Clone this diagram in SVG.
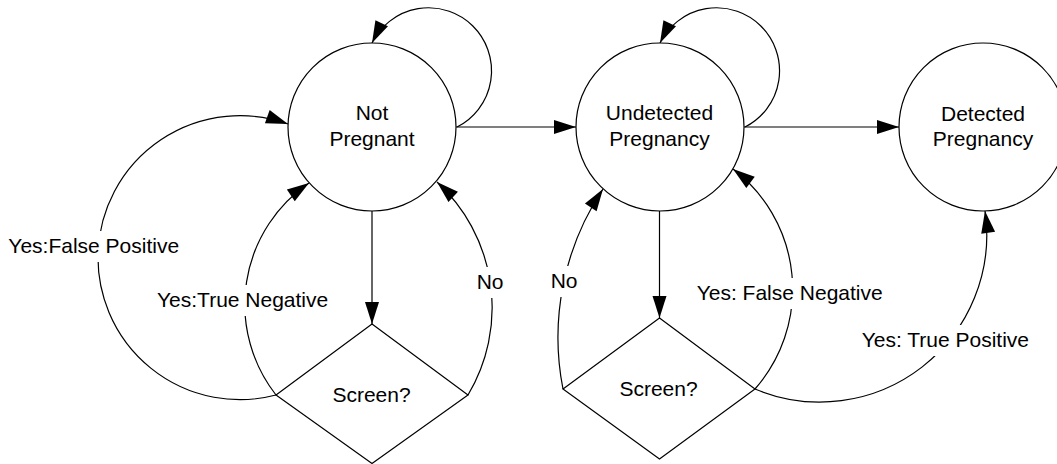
<svg xmlns="http://www.w3.org/2000/svg" width="1057" height="464" viewBox="0 0 1057 464">
<style>
.node{fill:#fff;stroke:#000;stroke-width:1.2}
.edge{fill:none;stroke:#000;stroke-width:1.2;marker-end:url(#arr)}
.edgeplain{fill:none;stroke:#000;stroke-width:1.2}
text{font-family:"Liberation Sans",Arial,sans-serif;font-size:21px;fill:#000}
.c{text-anchor:middle}
.bg{fill:#fff;stroke:none}
</style>
<defs>
<marker id="arr" markerUnits="userSpaceOnUse" markerWidth="24" markerHeight="16" refX="22" refY="7" orient="auto" overflow="visible">
<path d="M0,0 L22,7 L0,14 z" fill="#000"/>
</marker>
</defs>
<g id="connectors">
<path class="edge" d="M457,127 A63,63 0 1 0 372,43"/>
<path class="edge" d="M745,127 A63,63 0 1 0 660,43"/>
<path class="edge" d="M456,127 L576,127"/>
<path class="edge" d="M744,127 L899,127"/>
<path class="edge" d="M372,211 L372,324"/>
<path class="edge" d="M659.5,211 L659.5,318"/>
<path class="edge" d="M276,395 A142,142 0 1 1 288,124"/>
<path class="edge" d="M276,395 A147,147 0 0 1 309,183"/>
<path class="edge" d="M468,395 A170.4,170.4 0 0 0 437,182"/>
<path class="edge" d="M563,389 A267,267 0 0 1 603,189"/>
<path class="edge" d="M755,389 A151,151 0 0 0 733,169"/>
<path class="edge" d="M755,389 A167,167 0 0 0 985,211"/>
<g id="labels">
<rect class="bg" x="6" y="231" width="178" height="31"/>
<text x="8.3" y="253">Yes:False Positive</text>
<rect class="bg" x="155" y="285" width="178" height="31"/>
<text x="157" y="307">Yes:True Negative</text>
<rect class="bg" x="474" y="267" width="31" height="31"/>
<text x="476.7" y="289">No</text>
<rect class="bg" x="548" y="266" width="31" height="31"/>
<text x="550.7" y="288">No</text>
<rect class="bg" x="694" y="278" width="193" height="31"/>
<text x="696.7" y="300">Yes: False Negative</text>
<rect class="bg" x="859" y="325" width="175" height="31"/>
<text x="861.7" y="347">Yes: True Positive</text>
</g>
</g>
<g id="not-pregnant">
<circle class="node" cx="372" cy="127" r="84"/>
<text class="c" x="372" y="120">Not</text>
<text class="c" x="372" y="145.5">Pregnant</text>
</g>
<g id="undetected-pregnancy">
<circle class="node" cx="660" cy="127" r="84"/>
<text class="c" x="659.5" y="120">Undetected</text>
<text class="c" x="659.5" y="145.5">Pregnancy</text>
</g>
<g id="detected-pregnancy">
<circle class="node" cx="983" cy="127" r="84"/>
<text class="c" x="983" y="121">Detected</text>
<text class="c" x="983" y="146">Pregnancy</text>
</g>
<g id="screen-1">
<path class="node" fill="none" d="M372,324 L468,395 L372,463.5 L276,395 Z" style="fill:none"/>
<text class="c" x="371.5" y="402">Screen?</text>
</g>
<g id="screen-2">
<path class="node" d="M659.5,318 L755,389 L659.5,459 L563,389 Z" style="fill:none"/>
<text class="c" x="658.5" y="396">Screen?</text>
</g>
</svg>
